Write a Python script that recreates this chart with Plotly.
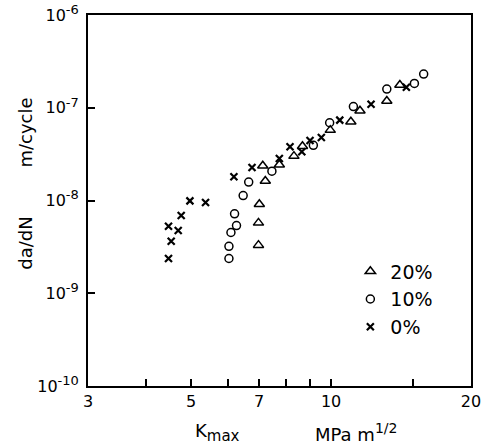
import math
import plotly.graph_objects as go

# 0% series
k_0 = [4.47, 4.47, 4.53, 4.69, 4.76, 4.97, 5.37, 6.18, 6.76, 7.74, 8.16, 8.65, 9.01, 9.53, 10.44, 12.19, 14.52]
r_0 = [2.37e-9, 5.28e-9, 3.64e-9, 4.74e-9, 6.89e-9, 9.9e-9, 9.5e-9, 1.80e-8, 2.27e-8, 2.84e-8, 3.79e-8, 3.35e-8, 4.43e-8, 4.78e-8, 7.36e-8, 1.09e-7, 1.66e-7]

# 10% series
k_10 = [6.03, 6.03, 6.09, 6.26, 6.20, 6.47, 6.65, 7.46, 9.16, 9.93, 11.17, 13.18, 15.11, 15.82]
r_10 = [2.37e-9, 3.21e-9, 4.52e-9, 5.37e-9, 7.18e-9, 1.13e-8, 1.58e-8, 2.07e-8, 3.93e-8, 6.89e-8, 1.03e-7, 1.59e-7, 1.83e-7, 2.31e-7]

# 20% series
k_20 = [6.98, 6.98, 7.01, 7.13, 7.22, 7.74, 8.32, 8.68, 9.96, 11.03, 11.54, 13.18, 14.06]
r_20 = [3.30e-9, 5.74e-9, 9.12e-9, 2.37e-8, 1.62e-8, 2.43e-8, 3.01e-8, 3.85e-8, 5.74e-8, 7.06e-8, 9.29e-8, 1.18e-7, 1.76e-7]

x_tickvals = [3, 4, 5, 6, 7, 8, 9, 10, 15, 20]
x_ticktext = ["3", "", "5", "", "7", "", "", "10", "", "20"]
y_tickvals = [1e-10, 1e-9, 1e-8, 1e-7, 1e-6]
y_exponents = ["-10", "-9", "-8", "-7", "-6"]
y_ticktext = ["10<sup><span style='font-size:13px'>%s</span></sup>" % e for e in y_exponents]

FONT = "DejaVu Sans, sans-serif"

fig = go.Figure()
fig.add_trace(go.Scatter(x=k_20, y=r_20, mode="markers", name="20%",
                         marker=dict(symbol="triangle-up-open", size=9, color="black", line=dict(width=1.5, color="black"))))
fig.add_trace(go.Scatter(x=k_10, y=r_10, mode="markers", name="10%",
                         marker=dict(symbol="circle-open", size=8, color="black", line=dict(width=1.5, color="black"))))
fig.add_trace(go.Scatter(x=k_0, y=r_0, mode="markers", name="0%",
                         marker=dict(symbol="x-thin-open", size=7, color="black", line=dict(width=2.2, color="black"))))

axis_common = dict(showgrid=False, zeroline=False, showline=True, linecolor="black", linewidth=2,
                   mirror=True, ticks="inside", ticklen=7, tickwidth=1.5, tickcolor="black",
                   automargin=False,
                   tickfont=dict(family=FONT, size=16, color="black"))

fig.update_xaxes(type="log", range=[math.log10(3) - 1e-6, math.log10(20) + 1e-6], tickmode="array",
                 tickvals=x_tickvals, ticktext=x_ticktext, **axis_common)
fig.update_yaxes(type="log", range=[-10 - 1e-6, -6 + 1e-6], tickmode="array", ticklabelstandoff=4,
                 tickvals=y_tickvals, ticktext=y_ticktext, **axis_common)

ann_font = dict(family=FONT, size=18, color="black")
fig.add_annotation(text="da/dN", xref="paper", yref="paper", x=-0.163, y=0.385, textangle=-90,
                   showarrow=False, font=ann_font, xanchor="center", yanchor="middle")
fig.add_annotation(text="m/cycle", xref="paper", yref="paper", x=-0.163, y=0.682, textangle=-90,
                   showarrow=False, font=ann_font, xanchor="center", yanchor="middle")
fig.add_annotation(text="K<sub><span style='font-size:15px'>max</span></sub>", xref="paper", yref="paper",
                   x=0.338, y=-0.125, showarrow=False, font=ann_font, xanchor="center", yanchor="middle")
fig.add_annotation(text="MPa m<sup><span style='font-size:14px'>1/2</span></sup>", xref="paper", yref="paper",
                   x=0.700, y=-0.125, showarrow=False, font=ann_font, xanchor="center", yanchor="middle")

fig.update_layout(
    width=489, height=446,
    margin=dict(l=88, r=18, t=15, b=60, autoexpand=False),
    paper_bgcolor="white", plot_bgcolor="white",
    font=dict(family=FONT, size=16, color="black"),
    showlegend=True,
    legend=dict(x=0.685, y=0.36, xanchor="left", yanchor="top", bgcolor="rgba(0,0,0,0)",
                font=dict(family=FONT, size=19, color="black"), itemwidth=30),
)

fig.write_html(
    "out.html",
    config={"displayModeBar": False},
    post_script="document.body.style.margin='0px';document.body.style.overflow='hidden';"
                "document.documentElement.style.overflow='hidden';",
)
